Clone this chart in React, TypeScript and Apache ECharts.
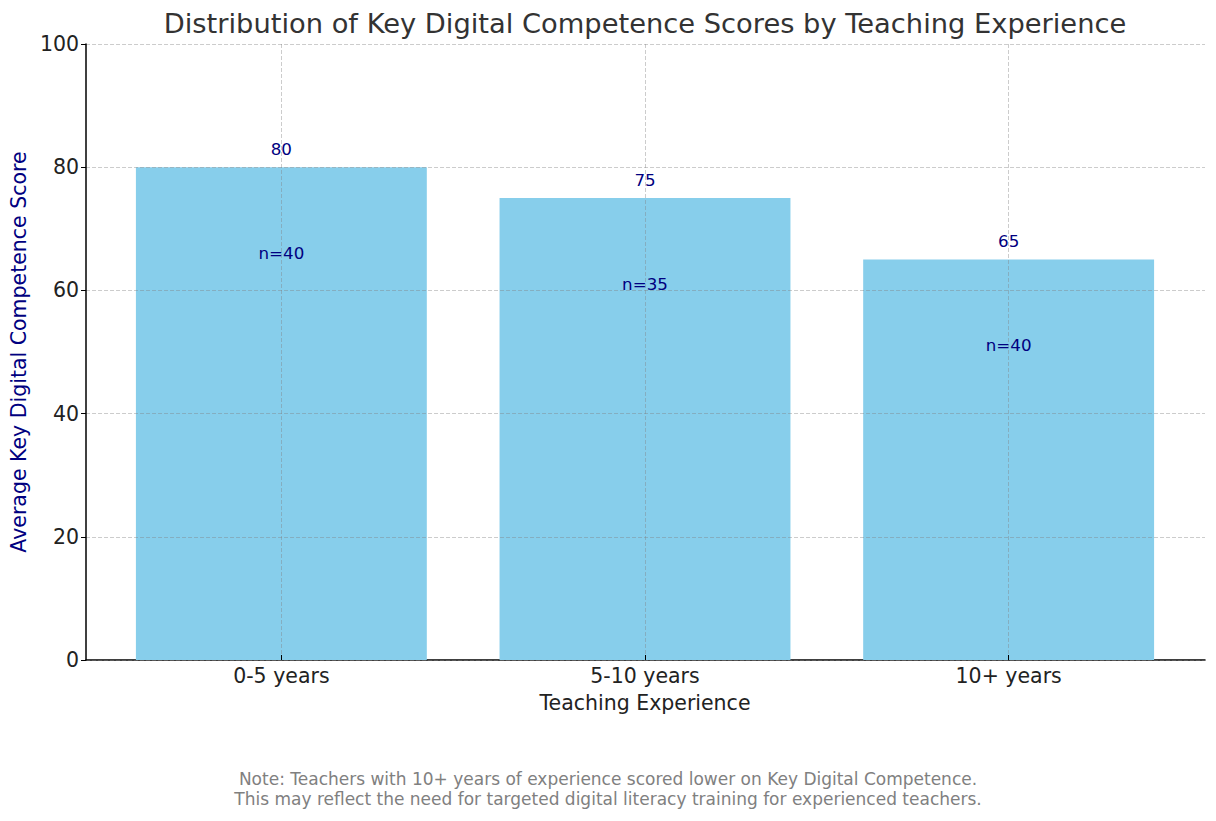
import React, { useEffect, useRef } from 'react';
import * as echarts from 'echarts';

const categories = ['0-5 years', '5-10 years', '10+ years'];
const scores = [80, 75, 65];
const sampleSizes = [40, 35, 40];
const yTicks = { min: 0, max: 100, step: 20 };

const title = 'Distribution of Key Digital Competence Scores by Teaching Experience';
const note =
  'Note: Teachers with 10+ years of experience scored lower on Key Digital Competence.\n' +
  'This may reflect the need for targeted digital literacy training for experienced teachers.';

const FONT = '"DejaVu Sans", Verdana, sans-serif';
const NAVY = '#000080';
const GRID_COLOR = 'rgba(128,128,128,0.4)';

// plot box, as measured on the picture
const PLOT_LEFT = 85;
const PLOT_RIGHT = 1205;
const PLOT_TOP = 44;
const PLOT_BOTTOM = 660;
const W = 1216;
const H = 821;
const MARGIN = 0.54; // data units beyond the first/last bar centre

const App = () => {
  const chartRef = useRef(null);

  useEffect(() => {
    document.body.style.margin = '0';
    const chart = echarts.init(chartRef.current, null, { renderer: 'svg' });

    const unit = (PLOT_RIGHT - PLOT_LEFT) / (categories.length - 1 + 2 * MARGIN);
    const barLeft = PLOT_LEFT + MARGIN * unit;
    const barRight = PLOT_RIGHT - MARGIN * unit;

    const option = {
      animation: false,
      textStyle: { fontFamily: FONT },
      title: [
        {
          text: title,
          left: (PLOT_LEFT + PLOT_RIGHT) / 2 - 5,
          textAlign: 'center',
          top: 5,
          textStyle: { fontSize: 27.3, fontWeight: 'normal', color: '#333', fontFamily: FONT },
        },
        {
          text: note,
          left: W / 2 - 5,
          textAlign: 'center',
          top: 764,
          textStyle: {
            fontSize: 17,
            fontWeight: 'normal',
            color: '#808080',
            lineHeight: 20,
            fontFamily: FONT,
          },
        },
      ],
      grid: [
        {
          left: PLOT_LEFT,
          right: W - PLOT_RIGHT,
          top: PLOT_TOP,
          bottom: H - PLOT_BOTTOM,
        },
        {
          left: barLeft,
          right: W - barRight,
          top: PLOT_TOP,
          bottom: H - PLOT_BOTTOM,
        },
      ],
      xAxis: [
        {
          gridIndex: 0,
          type: 'value',
          min: 0,
          max: 1,
          axisLine: { show: true, lineStyle: { color: '#000', width: 1.5 } },
          axisTick: { show: false },
          axisLabel: { show: false },
          splitLine: { show: false },
        },
        {
          gridIndex: 1,
          type: 'category',
          data: categories,
          boundaryGap: false,
          z: 5,
          axisLine: { show: false },
          axisTick: { show: true, inside: true, length: 5, lineStyle: { color: '#000' } },
          axisLabel: { fontSize: 20.5, color: '#222', margin: 5, fontFamily: FONT },
          splitLine: { show: true, lineStyle: { color: GRID_COLOR, type: 'dashed', width: 1 } },
          name: 'Teaching Experience',
          nameLocation: 'middle',
          nameGap: 32,
          nameTextStyle: { fontSize: 20.5, color: '#222', fontFamily: FONT },
        },
      ],
      yAxis: [
        {
          gridIndex: 0,
          type: 'value',
          min: yTicks.min,
          max: yTicks.max,
          interval: yTicks.step,
          z: 5,
          axisLine: { show: true, lineStyle: { color: '#000', width: 1.5 } },
          axisTick: { show: true, length: 5, lineStyle: { color: '#000' } },
          axisLabel: { fontSize: 20.5, color: '#222', margin: 7, fontFamily: FONT },
          splitLine: { show: true, lineStyle: { color: GRID_COLOR, type: 'dashed', width: 1 } },
          name: 'Average Key Digital Competence Score',
          nameLocation: 'middle',
          nameGap: 49,
          nameTextStyle: { fontSize: 20.5, color: NAVY, fontFamily: FONT },
        },
        {
          gridIndex: 1,
          type: 'value',
          min: yTicks.min,
          max: yTicks.max,
          show: false,
        },
      ],
      series: [
        {
          name: 'Score',
          type: 'bar',
          xAxisIndex: 1,
          yAxisIndex: 1,
          clip: false,
          barWidth: 0.8 * unit,
          data: scores,
          itemStyle: { color: '#87CEEB' },
          label: {
            show: true,
            position: 'insideTop',
            distance: 77,
            formatter: (p) => `n=${sampleSizes[p.dataIndex]}`,
            fontSize: 16.7,
            color: NAVY,
            fontFamily: FONT,
          },
        },
        {
          name: 'Value',
          type: 'bar',
          xAxisIndex: 1,
          yAxisIndex: 1,
          clip: false,
          barWidth: 0.8 * unit,
          barGap: '-100%',
          data: scores,
          silent: true,
          itemStyle: { color: 'rgba(0,0,0,0)' },
          label: {
            show: true,
            position: 'top',
            distance: 10,
            formatter: (p) => `${p.value}`,
            fontSize: 16.7,
            color: NAVY,
            fontFamily: FONT,
          },
        },
      ],
    };

    chart.setOption(option);

    return () => {
      chart.dispose();
    };
  }, []);

  return <div ref={chartRef} style={{ width: `${W}px`, height: `${H}px` }} />;
};

export default App;
